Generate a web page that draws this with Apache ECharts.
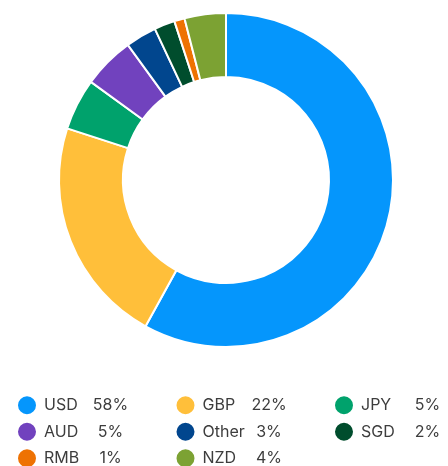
<!DOCTYPE html>
<html>
<head>
<meta charset="utf-8">
<script src="https://cdn.jsdelivr.net/npm/echarts@6/dist/echarts.min.js"></script>
<style>html,body{margin:0;padding:0;background:#fff;}#c{width:448px;height:466px;}</style>
</head>
<body>
<div id="c"></div>
<script>
var categories = ['USD', 'GBP', 'JPY', 'AUD', 'Other', 'SGD', 'RMB', 'NZD'];
var shares = [58, 22, 5, 5, 3, 2, 1, 4];
var colors = ['#0596FC', '#FFBF3A', '#00A26C', '#7142BE', '#01468E', '#004D2D', '#EE7203', '#7CA233'];

var chart = echarts.init(document.getElementById('c'), null, {renderer: 'canvas'});
var data = categories.map(function (c, i) {
  return {name: c, value: shares[i], itemStyle: {color: colors[i]}};
});
var lookup = {};
categories.forEach(function (c, i) { lookup[c] = shares[i]; });

var txt = {fontFamily: 'Inter', fontSize: 16, color: '#3d3d3d', lineHeight: 26.5};
chart.setOption({
  animation: false,
  legend: {
    left: 16,
    top: 392,
    padding: 0,
    width: 520,
    orient: 'horizontal',
    icon: 'circle',
    itemWidth: 20,
    itemHeight: 20,
    itemGap: 0,
    data: categories,
    formatter: function (name) {
      return '{n|' + name + '}{v|' + lookup[name] + '%}{s| }';
    },
    textStyle: Object.assign({}, txt, {
      rich: {
        n: Object.assign({}, txt, {width: 48, padding: [0, 0, 0, 2]}),
        v: Object.assign({}, txt, {width: 37, align: 'right'}),
        s: Object.assign({}, txt, {width: 45.5})
      }
    })
  },
  series: [{
    type: 'pie',
    center: [226, 180],
    radius: [103, 167],
    startAngle: 90,
    clockwise: true,
    label: {show: false},
    labelLine: {show: false},
    itemStyle: {borderColor: '#fff', borderWidth: 2},
    emphasis: {disabled: true},
    data: data
  }]
});
</script>
</body>
</html>
